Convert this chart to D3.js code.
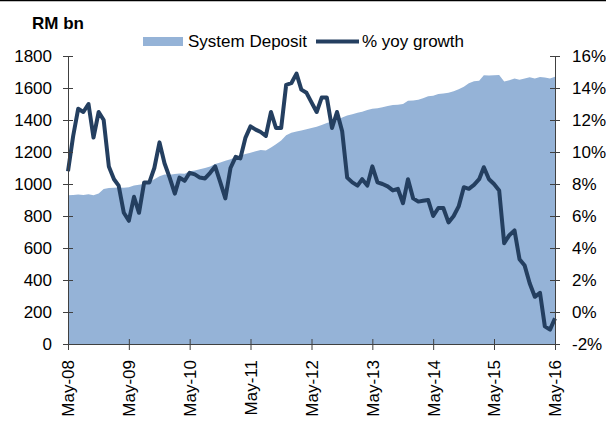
<!DOCTYPE html>
<html>
<head>
<meta charset="utf-8">
<script src="https://cdn.jsdelivr.net/npm/d3@7"></script>
<style>
  body { margin: 0; background: #fff; }
  svg text { font-family: "Liberation Sans", Arial, sans-serif; fill: #000; }
</style>
</head>
<body>
<div id="chart"></div>
<script>
// monthly, May-08 .. May-16
const startMonth = new Date(2008, 4, 1);
const tickLabels = ["May-08","May-09","May-10","May-11","May-12","May-13","May-14","May-15","May-16"];

// System Deposit, RM bn
const deposit = [
  929, 932, 935, 932, 936, 930, 940, 968, 975, 977, 978, 976,
  980, 990, 996, 1000, 1012, 1030, 1048, 1060, 1058, 1062, 1066, 1064,
  1080, 1085, 1092, 1100, 1110, 1125, 1135, 1145, 1155, 1168, 1178, 1188,
  1195, 1205, 1212, 1210, 1228, 1248, 1272, 1305, 1320, 1328, 1335, 1342,
  1350, 1358, 1368, 1382, 1392, 1400, 1415, 1428, 1436, 1445, 1452, 1462,
  1470, 1474, 1480, 1488, 1494, 1496, 1500, 1520, 1522, 1526, 1536, 1548,
  1552, 1562, 1566, 1570, 1580, 1592, 1608, 1630, 1642, 1646, 1680, 1678,
  1680, 1682, 1640, 1648, 1660, 1652, 1660, 1667, 1660, 1668, 1665, 1660,
  1670
];

// % yoy growth
const growth = [
  8.8, 11.0, 12.7, 12.5, 13.0, 10.9, 12.5, 12.0, 9.1, 8.3, 7.9, 6.2,
  5.7, 7.2, 6.2, 8.1, 8.1, 9.0, 10.6, 9.3, 8.4, 7.4, 8.4, 8.2,
  8.7, 8.6, 8.4, 8.35, 8.7, 9.1, 8.1, 7.1, 9.0, 9.7, 9.6, 10.9,
  11.6, 11.4, 11.25, 11.0, 12.5, 11.5, 11.5, 14.2, 14.3, 14.9, 13.9, 13.7,
  13.1, 12.5, 13.4, 13.4, 11.5, 12.5, 11.3, 8.4, 8.1, 7.9, 8.3, 7.9,
  9.1, 8.1, 8.0, 7.85, 7.6, 7.7, 6.8, 8.3, 7.1, 6.9, 6.95, 7.0,
  6.0, 6.5, 6.5, 5.6, 6.0, 6.6, 7.8, 7.7, 7.95, 8.3, 9.05, 8.3,
  8.0, 7.6, 4.3, 4.8, 5.1, 3.3, 2.9, 1.8, 0.95, 1.2, -0.9, -1.1,
  -0.4
];

const leftTicks = [0, 200, 400, 600, 800, 1000, 1200, 1400, 1600, 1800];
const rightTicks = [-2, 0, 2, 4, 6, 8, 10, 12, 14, 16];

const data = deposit.map((d, i) => ({
  date: d3.timeMonth.offset(startMonth, i),
  dep: d,
  yoy: growth[i]
}));

const W = 606, H = 430;
const margin = {top: 56, right: 51, bottom: 86, left: 68};
const width = W - margin.left - margin.right,
      height = H - margin.top - margin.bottom;
const axisColor = "#404040";
const fs = 17;

const svg = d3.select("#chart").append("svg")
    .attr("width", W).attr("height", H);

svg.append("line")
    .attr("x1", 0).attr("x2", W).attr("y1", 0.5).attr("y2", 0.5)
    .attr("stroke", "#000").attr("stroke-width", 1.5);

const g = svg.append("g").attr("transform", `translate(${margin.left},${margin.top})`);

const x = d3.scaleTime()
    .domain([startMonth, d3.timeMonth.offset(startMonth, 96)])
    .range([0, width]);
const yL = d3.scaleLinear().domain([0, 1800]).range([height, 0]);
const yR = d3.scaleLinear().domain([-2, 16]).range([height, 0]);

// area
g.append("path")
    .datum(data)
    .attr("fill", "#95b3d7")
    .attr("d", d3.area()
      .x(d => x(d.date))
      .y0(yL(0))
      .y1(d => yL(d.dep)));

// line
g.append("path")
    .datum(data)
    .attr("fill", "none")
    .attr("stroke", "#243f60")
    .attr("stroke-width", 4)
    .attr("stroke-linejoin", "round")
    .attr("d", d3.line()
      .x(d => x(d.date))
      .y(d => yR(d.yoy)));

function styleAxis(sel) {
  sel.select(".domain").attr("stroke", axisColor);
  sel.selectAll(".tick line").attr("stroke", axisColor);
  sel.selectAll("text").attr("font-size", fs).attr("fill", "#000");
}

// left axis
const gl = g.append("g")
    .call(d3.axisLeft(yL).tickValues(leftTicks).tickFormat(d3.format("d"))
      .tickSizeOuter(0).tickSize(5).tickPadding(11));
gl.selectAll(".tick line").attr("x2", 5).attr("x1", -5);
styleAxis(gl);

// right axis
const gr = g.append("g")
    .attr("transform", `translate(${width},0)`)
    .call(d3.axisRight(yR).tickValues(rightTicks).tickSizeOuter(0).tickSize(5).tickPadding(12)
      .tickFormat(d => d + "%"));
gr.selectAll(".tick line").attr("x1", -5).attr("x2", 5);
styleAxis(gr);

// bottom axis
const gb = g.append("g")
    .attr("transform", `translate(0,${height})`)
    .call(d3.axisBottom(x)
      .tickValues(tickLabels.map((t, i) => d3.timeMonth.offset(startMonth, i * 12)))
      .tickFormat((d, i) => tickLabels[i])
      .tickSizeOuter(0).tickSize(6));
gb.selectAll(".tick line").attr("y1", -5).attr("y2", 6);
styleAxis(gb);
gb.selectAll("text")
    .attr("text-anchor", "end")
    .attr("transform", "rotate(-90)")
    .attr("x", -16).attr("y", 0).attr("dy", "0.35em");

// unit label
svg.append("text")
    .attr("x", 32).attr("y", 29)
    .attr("font-size", fs).attr("font-weight", "bold")
    .text("RM bn");

// legend
const lg = svg.append("g").attr("font-size", fs);
lg.append("rect")
    .attr("x", 143).attr("y", 37).attr("width", 40).attr("height", 9)
    .attr("fill", "#95b3d7");
lg.append("text").attr("x", 188).attr("y", 47).text("System Deposit");
lg.append("line")
    .attr("x1", 316).attr("x2", 359).attr("y1", 41.5).attr("y2", 41.5)
    .attr("stroke", "#243f60").attr("stroke-width", 4);
lg.append("text").attr("x", 362).attr("y", 47).text("% yoy growth");
</script>
</body>
</html>
